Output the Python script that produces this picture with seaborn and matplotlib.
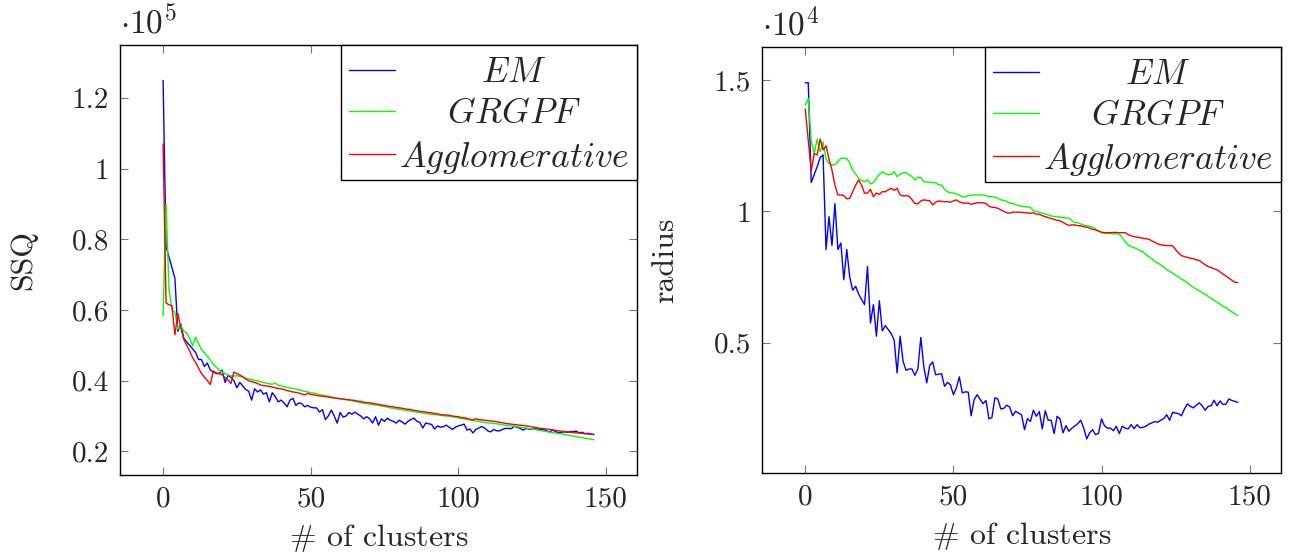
import numpy as np
import pandas as pd
import matplotlib
matplotlib.use('Agg')
import matplotlib.pyplot as plt
import matplotlib.transforms as mtransforms
import seaborn as sns

# numero de clusters (0..146)
clusters = list(range(147))
methods = ['$EM$', '$GRGPF$', '$Agglomerative$']

# SSQ (x 10^5)
ssq_em = [
    1.25, 0.78, 0.75, 0.72, 0.69, 0.54, 0.56, 0.52, 0.51, 0.50,
    0.49, 0.48, 0.46, 0.46, 0.44, 0.45, 0.43, 0.425, 0.42, 0.42,
    0.43, 0.395, 0.415, 0.41, 0.40, 0.38, 0.395, 0.385, 0.375, 0.37,
    0.345, 0.377, 0.368, 0.374, 0.362, 0.366, 0.34, 0.366, 0.355, 0.34,
    0.345, 0.337, 0.326, 0.345, 0.35, 0.33, 0.337, 0.335, 0.326, 0.33,
    0.325, 0.323, 0.323, 0.311, 0.318, 0.29, 0.30, 0.317, 0.30, 0.28,
    0.31, 0.297, 0.30, 0.31, 0.305, 0.311, 0.305, 0.30, 0.292, 0.298,
    0.292, 0.28, 0.298, 0.274, 0.292, 0.285, 0.294, 0.288, 0.285, 0.28,
    0.288, 0.283, 0.277, 0.285, 0.29, 0.294, 0.285, 0.282, 0.266, 0.28,
    0.278, 0.276, 0.263, 0.272, 0.268, 0.27, 0.274, 0.268, 0.262, 0.268,
    0.272, 0.274, 0.277, 0.26, 0.263, 0.252, 0.262, 0.266, 0.27, 0.266,
    0.258, 0.255, 0.262, 0.258, 0.258, 0.262, 0.265, 0.265, 0.264, 0.271,
    0.268, 0.265, 0.26, 0.265, 0.263, 0.262, 0.264, 0.263, 0.262, 0.262,
    0.258, 0.255, 0.26, 0.256, 0.252, 0.254, 0.255, 0.254, 0.256, 0.256,
    0.257, 0.252, 0.254, 0.25, 0.251, 0.249, 0.247,
]
ssq_grgpf = [
    0.583, 0.90, 0.66, 0.60, 0.594, 0.546, 0.555, 0.54, 0.535, 0.52,
    0.498, 0.523, 0.505, 0.489, 0.478, 0.469, 0.458, 0.446, 0.438, 0.431,
    0.424, 0.42, 0.416, 0.414, 0.413, 0.414, 0.412, 0.41, 0.407, 0.405,
    0.403, 0.401, 0.399, 0.397, 0.395, 0.393, 0.391, 0.390, 0.393, 0.387,
    0.385, 0.383, 0.381, 0.379, 0.378, 0.376, 0.374, 0.372, 0.370, 0.368,
    0.366, 0.365, 0.363, 0.361, 0.359, 0.357, 0.356, 0.354, 0.352, 0.350,
    0.349, 0.347, 0.346, 0.344, 0.343, 0.341, 0.340, 0.338, 0.336, 0.335,
    0.334, 0.332, 0.331, 0.330, 0.328, 0.327, 0.325, 0.323, 0.322, 0.320,
    0.319, 0.318, 0.316, 0.315, 0.314, 0.312, 0.311, 0.310, 0.308, 0.307,
    0.306, 0.305, 0.304, 0.303, 0.302, 0.301, 0.300, 0.299, 0.298, 0.296,
    0.295, 0.293, 0.292, 0.290, 0.289, 0.287, 0.286, 0.285, 0.283, 0.282,
    0.281, 0.280, 0.279, 0.278, 0.277, 0.275, 0.274, 0.273, 0.272, 0.271,
    0.270, 0.268, 0.267, 0.266, 0.264, 0.263, 0.262, 0.260, 0.259, 0.257,
    0.256, 0.254, 0.253, 0.252, 0.250, 0.249, 0.248, 0.246, 0.245, 0.243,
    0.242, 0.240, 0.239, 0.237, 0.236, 0.234, 0.233,
]
ssq_aggl = [
    1.07, 0.62, 0.615, 0.612, 0.53, 0.59, 0.55, 0.517, 0.50, 0.484,
    0.465, 0.452, 0.436, 0.42, 0.41, 0.40, 0.389, 0.427, 0.422, 0.42,
    0.417, 0.408, 0.402, 0.392, 0.424, 0.42, 0.416, 0.411, 0.405, 0.40,
    0.397, 0.395, 0.392, 0.388, 0.386, 0.385, 0.384, 0.382, 0.38, 0.378,
    0.377, 0.375, 0.372, 0.37, 0.368, 0.367, 0.365, 0.362, 0.36, 0.364,
    0.361, 0.36, 0.358, 0.357, 0.356, 0.355, 0.354, 0.352, 0.351, 0.35,
    0.349, 0.348, 0.347, 0.346, 0.345, 0.344, 0.342, 0.341, 0.339, 0.338,
    0.337, 0.336, 0.334, 0.333, 0.331, 0.330, 0.328, 0.327, 0.326, 0.324,
    0.323, 0.322, 0.320, 0.319, 0.318, 0.316, 0.315, 0.313, 0.312, 0.311,
    0.310, 0.309, 0.307, 0.306, 0.304, 0.303, 0.303, 0.302, 0.300, 0.299,
    0.298, 0.296, 0.295, 0.293, 0.291, 0.289, 0.292, 0.290, 0.289, 0.288,
    0.287, 0.286, 0.285, 0.284, 0.282, 0.281, 0.279, 0.278, 0.277, 0.276,
    0.275, 0.274, 0.273, 0.272, 0.271, 0.269, 0.268, 0.266, 0.265, 0.264,
    0.263, 0.262, 0.261, 0.259, 0.258, 0.257, 0.256, 0.255, 0.254, 0.253,
    0.252, 0.252, 0.251, 0.250, 0.249, 0.249, 0.248,
]

# radius (x 10^4)
rad_em = [
    1.49, 1.49, 1.11, 1.14, 1.17, 1.205, 1.215, 0.855, 0.98, 0.87,
    1.03, 0.855, 0.88, 0.74, 0.855, 0.75, 0.70, 0.715, 0.685, 0.665,
    0.645, 0.79, 0.575, 0.645, 0.525, 0.66, 0.545, 0.565, 0.55, 0.535,
    0.51, 0.385, 0.525, 0.43, 0.395, 0.40, 0.40, 0.376, 0.40, 0.52,
    0.41, 0.347, 0.414, 0.427, 0.378, 0.38, 0.382, 0.334, 0.349, 0.34,
    0.302, 0.328, 0.37, 0.309, 0.313, 0.312, 0.222, 0.283, 0.302, 0.285,
    0.268, 0.28, 0.21, 0.215, 0.29, 0.286, 0.248, 0.25, 0.262, 0.255,
    0.222, 0.239, 0.232, 0.226, 0.169, 0.211, 0.20, 0.243, 0.22, 0.238,
    0.172, 0.241, 0.205, 0.205, 0.154, 0.22, 0.21, 0.157, 0.184, 0.163,
    0.175, 0.183, 0.192, 0.205, 0.175, 0.134, 0.157, 0.169, 0.15, 0.155,
    0.21, 0.184, 0.175, 0.175, 0.165, 0.182, 0.154, 0.182, 0.175, 0.172,
    0.188, 0.173, 0.188, 0.176, 0.178, 0.182, 0.19, 0.195, 0.20, 0.197,
    0.205, 0.211, 0.226, 0.205, 0.235, 0.232, 0.23, 0.222, 0.248, 0.267,
    0.258, 0.252, 0.262, 0.271, 0.26, 0.243, 0.258, 0.26, 0.281, 0.26,
    0.278, 0.265, 0.266, 0.286, 0.28, 0.277, 0.273,
]
rad_grgpf = [
    1.405, 1.43, 1.27, 1.22, 1.275, 1.227, 1.265, 1.20, 1.183, 1.177,
    1.178, 1.19, 1.202, 1.203, 1.202, 1.185, 1.155, 1.143, 1.126, 1.118,
    1.113, 1.12, 1.105, 1.11, 1.126, 1.14, 1.151, 1.145, 1.139, 1.141,
    1.151, 1.132, 1.142, 1.147, 1.148, 1.14, 1.132, 1.12, 1.13, 1.129,
    1.113, 1.112, 1.111, 1.110, 1.11, 1.102, 1.10, 1.085, 1.075, 1.071,
    1.07, 1.067, 1.062, 1.056, 1.056, 1.06, 1.062, 1.063, 1.063, 1.062,
    1.063, 1.06, 1.057, 1.056, 1.054, 1.05, 1.044, 1.042, 1.038, 1.031,
    1.03, 1.027, 1.022, 1.02, 1.018, 1.017, 1.016, 1.002, 1.0, 0.997,
    0.993, 0.99, 0.987, 0.983, 0.981, 0.98, 0.978, 0.977, 0.975, 0.974,
    0.965, 0.957, 0.957, 0.952, 0.948, 0.945, 0.943, 0.94, 0.933, 0.925,
    0.919, 0.917, 0.916, 0.916, 0.915, 0.915, 0.914, 0.90, 0.885, 0.872,
    0.866, 0.862, 0.857, 0.851, 0.846, 0.836, 0.827, 0.82, 0.809, 0.803,
    0.797, 0.787, 0.779, 0.772, 0.765, 0.757, 0.75, 0.742, 0.736, 0.729,
    0.719, 0.711, 0.704, 0.697, 0.691, 0.684, 0.676, 0.668, 0.661, 0.654,
    0.647, 0.638, 0.634, 0.625, 0.618, 0.61, 0.603,
]
rad_aggl = [
    1.39, 1.27, 1.155, 1.22, 1.215, 1.276, 1.234, 1.249, 1.20, 1.158,
    1.10, 1.063, 1.063, 1.06, 1.048, 1.05, 1.075, 1.10, 1.12, 1.10,
    1.069, 1.07, 1.084, 1.056, 1.07, 1.065, 1.075, 1.075, 1.082, 1.088,
    1.08, 1.088, 1.063, 1.059, 1.06, 1.058, 1.045, 1.03, 1.029, 1.04,
    1.044, 1.042, 1.041, 1.025, 1.035, 1.04, 1.038, 1.037, 1.037, 1.035,
    1.04, 1.044, 1.036, 1.033, 1.031, 1.032, 1.027, 1.03, 1.033, 1.033,
    1.033, 1.03, 1.02, 1.016, 1.015, 1.012, 1.006, 1.0, 0.995, 0.993,
    0.997, 0.997, 0.997, 0.997, 0.995, 0.994, 0.993, 0.995, 0.99, 0.989,
    0.984, 0.98, 0.977, 0.973, 0.97, 0.966, 0.964, 0.958, 0.952, 0.946,
    0.949, 0.948, 0.946, 0.945, 0.942, 0.94, 0.936, 0.932, 0.93, 0.925,
    0.921, 0.919, 0.919, 0.919, 0.92, 0.92, 0.919, 0.919, 0.919, 0.912,
    0.907, 0.904, 0.902, 0.9, 0.898, 0.896, 0.894, 0.888, 0.882, 0.876,
    0.873, 0.871, 0.87, 0.87, 0.869, 0.855, 0.842, 0.832, 0.828, 0.825,
    0.822, 0.82, 0.816, 0.813, 0.805, 0.797, 0.79, 0.786, 0.782, 0.778,
    0.77, 0.762, 0.754, 0.746, 0.738, 0.73, 0.729,
]

x_ticks = [0, 50, 100, 150]
ssq_ticks = [0.2, 0.4, 0.6, 0.8, 1.0, 1.2]
ssq_tick_labels = ['0.2', '0.4', '0.6', '0.8', '1', '1.2']
rad_ticks = [0.5, 1.0, 1.5]
rad_tick_labels = ['0.5', '1', '1.5']

sns.set_style('ticks')
plt.rcParams['font.family'] = 'serif'
plt.rcParams['font.serif'] = ['cmr10']
plt.rcParams['mathtext.fontset'] = 'cm'
plt.rcParams['axes.unicode_minus'] = False

palette = {'$EM$': '#0000ff', '$GRGPF$': '#00ff00', '$Agglomerative$': '#ff0000'}


def to_long(series):
    frames = []
    for name, vals in zip(methods, series):
        frames.append(pd.DataFrame({'k': clusters, 'v': vals, 'metodo': name}))
    return pd.concat(frames, ignore_index=True)


df_ssq = to_long([ssq_em, ssq_grgpf, ssq_aggl])
df_rad = to_long([rad_em, rad_grgpf, rad_aggl])

fig = plt.figure(figsize=(12.89, 5.57), dpi=100)
ax1 = fig.add_axes([0.0931, 0.1472, 0.4011, 0.772])
ax2 = fig.add_axes([0.5912, 0.1508, 0.4026, 0.7648])

fs = 21
fs_lab = 23
fs_leg = 25.5
paineis = [
    (ax1, df_ssq, (0.133, 1.35), ssq_ticks, ssq_tick_labels, 'SSQ', r'$\cdot 10^5$'),
    (ax2, df_rad, (0.004, 1.626), rad_ticks, rad_tick_labels, 'radius', r'$\cdot 10^4$'),
]
legendas = []
for ax, df, ylim, yt, ytl, ylab, mult in paineis:
    sns.lineplot(data=df, x='k', y='v', hue='metodo', palette=palette,
                 estimator=None, linewidth=1.0, ax=ax)
    ax.set_xlim(-14.6, 160.6)
    ax.set_ylim(*ylim)
    ax.set_xticks(x_ticks)
    ax.set_xticklabels([str(t) for t in x_ticks])
    ax.set_yticks(yt)
    ax.set_yticklabels(ytl)
    ax.tick_params(direction='in', length=6, width=0.8, color='#777777',
                   top=True, right=True, labelsize=fs, pad=8)
    for s in ax.spines.values():
        s.set_color('black')
        s.set_linewidth(1.0)
    ax.set_xlabel(r'$\#$ of clusters', fontsize=fs_lab, labelpad=7)
    ax.set_ylabel(ylab, fontsize=fs_lab, labelpad=25)
    ax.text(0.0, 1.012, mult, transform=ax.transAxes, fontsize=fs + 3,
            ha='left', va='bottom')
    leg = ax.legend(loc='upper right', bbox_to_anchor=(1.0, 1.0),
                    borderaxespad=0.0, fontsize=fs_leg, frameon=True,
                    fancybox=False, framealpha=1.0, edgecolor='black',
                    handlelength=1.3, handletextpad=0.1, labelspacing=0.25,
                    borderpad=0.24)
    leg.get_frame().set_linewidth(1.0)
    legendas.append(leg)

# centrar os textos da legenda como no pgfplots e baixar um pouco as linhas
fig.canvas.draw()
for leg in legendas:
    textos = leg.get_texts()
    larguras = [t.get_window_extent().width for t in textos]
    wmax = max(larguras)
    for t, w in zip(textos, larguras):
        dx = (wmax - w) / 2.0
        t.set_transform(t.get_transform() + mtransforms.Affine2D().translate(dx, -4))
    for ln in leg.get_lines():
        ln.set_transform(ln.get_transform() + mtransforms.Affine2D().translate(0, -4))

fig.savefig('out.png', dpi=100)
